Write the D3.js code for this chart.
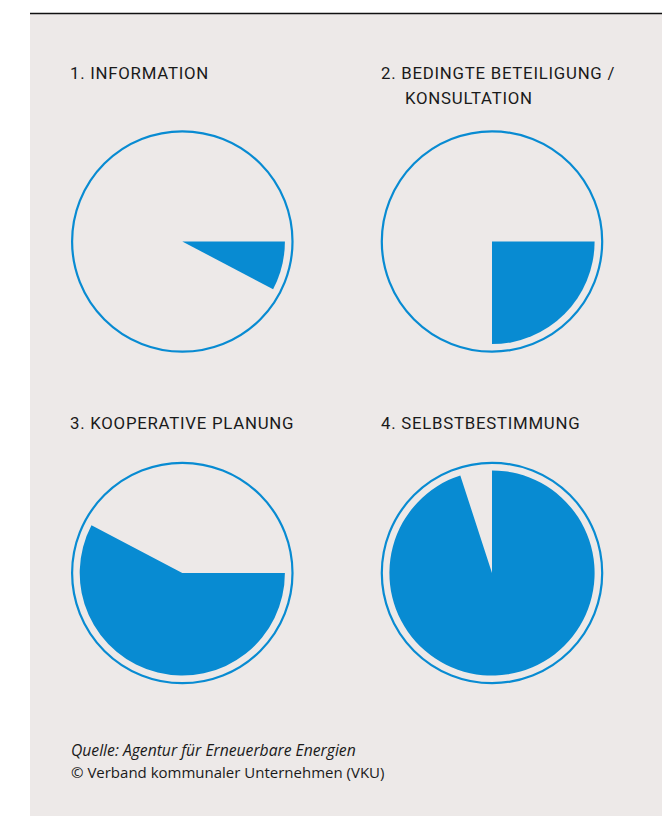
<!DOCTYPE html>
<html><head><meta charset="utf-8">
<script src="https://cdn.jsdelivr.net/npm/d3@7"></script>
<style>
html,body{margin:0;padding:0;background:#fff;}
svg{display:block;}
</style></head>
<body>
<script>
// Data
const titles = [["1. INFORMATION"], ["2. BEDINGTE BETEILIGUNG /", "KONSULTATION"], ["3. KOOPERATIVE PLANUNG"], ["4. SELBSTBESTIMMUNG"]];
const shares = [7.7, 25, 57.7, 95];          // percent of the circle filled
const startDeg = [90, 90, 90, 0];            // where the filled slice begins (clockwise from 12 o'clock)
const sourceLines = ["Quelle: Agentur für Erneuerbare Energien", "© Verband kommunaler Unternehmen (VKU)"];

const W = 662, H = 816;
const blue = "#088bd2", panel = "#ede9e8", ink = "#1a1a1a";
const svg = d3.select("body").append("svg").attr("width", W).attr("height", H);

svg.append("rect").attr("x", 30).attr("y", 14).attr("width", W - 30).attr("height", H - 14).attr("fill", panel);
svg.append("line").attr("x1", 30).attr("x2", W).attr("y1", 13.5).attr("y2", 13.5).attr("stroke", "#111").attr("stroke-width", 1.6);

const angle = d3.scaleLinear().domain([0, 100]).range([0, 2 * Math.PI]);
const toRad = d => d * Math.PI / 180;
const arc = d3.arc().innerRadius(0).outerRadius(102.6);

const cols = [0, 1, 0, 1], rows = [0, 0, 1, 1];
const cx = [182.3, 492], cy = [241.5, 573];
const titleX = [70, 381], titleY = [79, 429];

titles.forEach((t, i) => {
  const x = cx[cols[i]], y = cy[rows[i]];
  const g = svg.append("g").attr("transform", `translate(${x},${y})`);
  g.append("circle").attr("r", 110.2).attr("fill", "none").attr("stroke", blue).attr("stroke-width", 2.2);
  const s = toRad(startDeg[i]);
  g.append("path").attr("d", arc({startAngle: s, endAngle: s + angle(shares[i])})).attr("fill", blue);

  const tx = svg.append("text").attr("x", titleX[cols[i]]).attr("y", titleY[rows[i]])
    .attr("font-family", "Roboto, sans-serif").attr("font-weight", 400).attr("font-size", 16.8).attr("letter-spacing", 0.75)
    .attr("fill", ink);
  t.forEach((line, j) => {
    tx.append("tspan").attr("x", titleX[cols[i]] + (j > 0 ? 24 : 0)).attr("dy", j === 0 ? 0 : 24.5).text(line);
  });
});

sourceLines.forEach((l, j) => {
  svg.append("text").attr("x", 71).attr("y", 756 + j * 22)
    .attr("font-family", "'Open Sans', sans-serif").attr("font-size", j === 0 ? 15.7 : 15)
    .attr("font-style", j === 0 ? "italic" : "normal").attr("fill", ink).text(l);
});
</script>
</body></html>
